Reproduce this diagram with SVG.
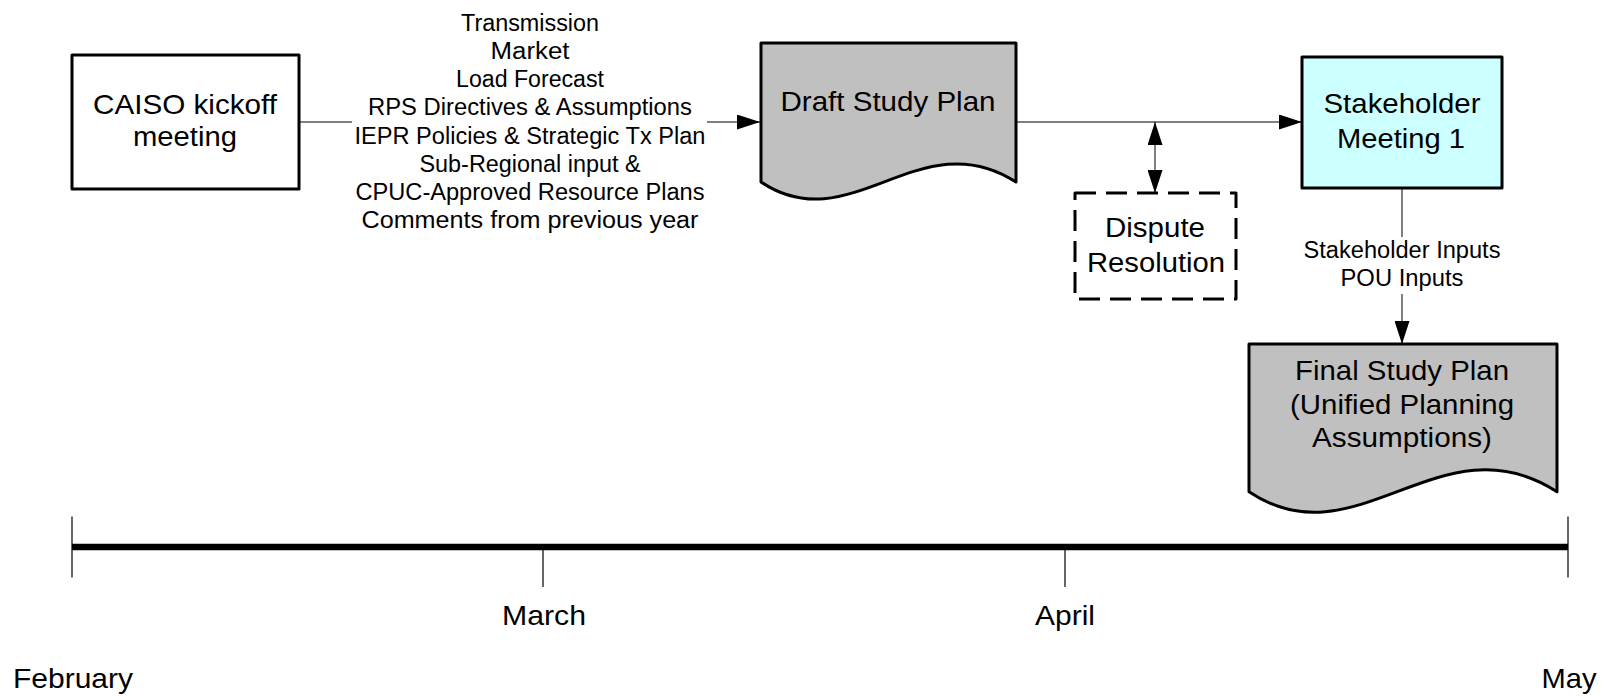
<svg xmlns="http://www.w3.org/2000/svg" width="1606" height="696" viewBox="0 0 1606 696">
<defs>
<style>
.t{font-family:"Liberation Sans",Arial,sans-serif;font-size:27.5px;fill:#000;text-anchor:middle}
.s{font-family:"Liberation Sans",Arial,sans-serif;font-size:23px;fill:#000;text-anchor:middle}
.box{stroke:#000;stroke-width:3;stroke-linejoin:round}
.conn{stroke:#000;stroke-width:1;fill:none}
.tick{stroke:#000;stroke-width:1.2}
</style>
<marker id="arr" viewBox="0 0 23 15" refX="23" refY="7.5" markerWidth="23" markerHeight="15" orient="auto-start-reverse" markerUnits="userSpaceOnUse">
<path d="M0,0 L23,7.5 L0,15 z" fill="#000"/>
</marker>
</defs>
<rect width="1606" height="696" fill="#fff"/>

<g id="connectors">
<path class="conn" d="M299,122 H760" marker-end="url(#arr)"/>
<path class="conn" d="M1016,122 H1302" marker-end="url(#arr)"/>
<path class="conn" d="M1155,122 V193" marker-start="url(#arr)" marker-end="url(#arr)"/>
<path class="conn" d="M1402,188 V344" marker-end="url(#arr)"/>
<g id="label-inputs">
<rect x="352" y="8" width="355" height="228" fill="#fff"/>
<text class="s" x="530" y="30.7" textLength="138" lengthAdjust="spacingAndGlyphs">Transmission</text>
<text class="s" x="530" y="58.9" textLength="79" lengthAdjust="spacingAndGlyphs">Market</text>
<text class="s" x="530" y="87.1" textLength="148" lengthAdjust="spacingAndGlyphs">Load Forecast</text>
<text class="s" x="530" y="115.3" textLength="324" lengthAdjust="spacingAndGlyphs">RPS Directives &amp; Assumptions</text>
<text class="s" x="530" y="143.5" textLength="351" lengthAdjust="spacingAndGlyphs">IEPR Policies &amp; Strategic Tx Plan</text>
<text class="s" x="530" y="171.7" textLength="221" lengthAdjust="spacingAndGlyphs">Sub-Regional input &amp;</text>
<text class="s" x="530" y="199.9" textLength="349" lengthAdjust="spacingAndGlyphs">CPUC-Approved Resource Plans</text>
<text class="s" x="530" y="228.1" textLength="337" lengthAdjust="spacingAndGlyphs">Comments from previous year</text>
</g>
<g id="label-stakeholder-inputs">
<rect x="1300" y="237" width="205" height="57" fill="#fff"/>
<text class="s" x="1402" y="258.3" textLength="197" lengthAdjust="spacingAndGlyphs">Stakeholder Inputs</text>
<text class="s" x="1402" y="285.7" textLength="123" lengthAdjust="spacingAndGlyphs">POU Inputs</text>
</g>
</g>

<g id="caiso-kickoff">
<rect class="box" x="72" y="55" width="227" height="134" fill="#fff"/>
<text class="t" x="185" y="114" textLength="184" lengthAdjust="spacingAndGlyphs">CAISO kickoff</text>
<text class="t" x="185" y="146" textLength="104" lengthAdjust="spacingAndGlyphs">meeting</text>
</g>

<g id="draft-study-plan">
<path class="box" fill="#C0C0C0" d="M761,43 H1016 V182 C920,120 850,242 761,182 Z"/>
<text class="t" x="888" y="111" textLength="215" lengthAdjust="spacingAndGlyphs">Draft Study Plan</text>
</g>

<g id="dispute-resolution">
<rect class="box" x="1075" y="193" width="161" height="106" fill="#fff" stroke-dasharray="21 10"/>
<text class="t" x="1155" y="236.7" textLength="100" lengthAdjust="spacingAndGlyphs">Dispute</text>
<text class="t" x="1156" y="272.3" textLength="138" lengthAdjust="spacingAndGlyphs">Resolution</text>
</g>

<g id="stakeholder-meeting">
<rect class="box" x="1302" y="57" width="200" height="131" fill="#CCFFFF"/>
<text class="t" x="1402" y="113.3" textLength="157" lengthAdjust="spacingAndGlyphs">Stakeholder</text>
<text class="t" x="1401" y="148.3" textLength="128" lengthAdjust="spacingAndGlyphs">Meeting 1</text>
</g>

<g id="final-study-plan">
<path class="box" fill="#C0C0C0" d="M1249,344 H1557 V491.7 C1441,416.7 1356.5,564 1249,491.7 Z"/>
<text class="t" x="1402" y="380" textLength="214" lengthAdjust="spacingAndGlyphs">Final Study Plan</text>
<text class="t" x="1402" y="413.5" textLength="224" lengthAdjust="spacingAndGlyphs">(Unified Planning</text>
<text class="t" x="1402" y="447" textLength="180" lengthAdjust="spacingAndGlyphs">Assumptions)</text>
</g>

<g id="timeline">
<line x1="72" y1="547" x2="1568" y2="547" stroke="#000" stroke-width="6.5"/>
<line class="tick" x1="72" y1="516.5" x2="72" y2="577.5"/>
<line class="tick" x1="1568" y1="516.5" x2="1568" y2="577.5"/>
<line class="tick" x1="543" y1="547" x2="543" y2="587"/>
<line class="tick" x1="1065" y1="547" x2="1065" y2="587"/>
<text class="t" x="544" y="625" textLength="84" lengthAdjust="spacingAndGlyphs">March</text>
<text class="t" x="1065" y="625" textLength="60" lengthAdjust="spacingAndGlyphs">April</text>
<text class="t" x="73" y="688" textLength="120" lengthAdjust="spacingAndGlyphs">February</text>
<text class="t" x="1569" y="688" textLength="55" lengthAdjust="spacingAndGlyphs">May</text>
</g>
</svg>
